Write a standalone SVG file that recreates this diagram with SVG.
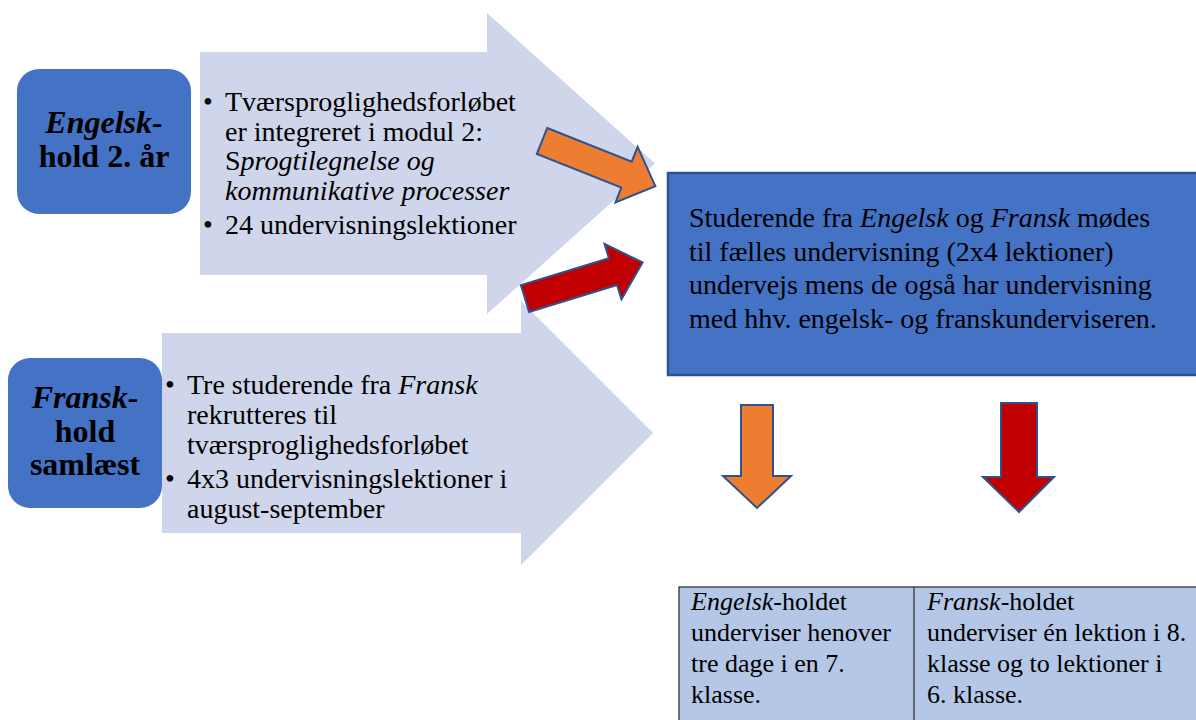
<svg xmlns="http://www.w3.org/2000/svg" width="1196" height="720" viewBox="0 0 1196 720">
<defs>
<style>
text{font-family:'Liberation Serif','DejaVu Serif',serif;fill:#000}
.lbl{font-size:32px;font-weight:bold;text-anchor:middle}
.body{font-size:28px}
.tab{font-size:26px}
.big{fill:#CFD5EA}
.blue{fill:#4472C4}
.or{fill:#ED7D31;stroke:#2F528F;stroke-width:2;stroke-linejoin:miter}
.rd{fill:#C00000;stroke:#2F528F;stroke-width:2;stroke-linejoin:miter}
</style>
</defs>
<rect width="1196" height="720" fill="#fff"/>
<g id="engelsk-arrow">
<polygon class="big" points="200,52 487,52 487,13 655,163.5 487,314 487,275 200,275"/>
<text class="body"><tspan x="203" y="111">•</tspan><tspan x="225" y="111">Tværsproglighedsforløbet</tspan><tspan x="225" y="141">er integreret i modul 2:</tspan><tspan x="225" y="170">S<tspan font-style="italic">progtilegnelse og</tspan></tspan><tspan x="225" y="200" font-style="italic">kommunikative processer</tspan><tspan x="203" y="234">•</tspan><tspan x="225" y="234">24 undervisningslektioner</tspan></text>
</g>
<g id="fransk-arrow">
<polygon class="big" points="162,333 521,333 521,301 653,433 521,565 521,533 162,533"/>
<text class="body"><tspan x="165" y="394">•</tspan><tspan x="187" y="394">Tre studerende fra <tspan font-style="italic">Fransk</tspan></tspan><tspan x="187" y="424">rekrutteres til</tspan><tspan x="187" y="454">tværsproglighedsforløbet</tspan><tspan x="165" y="488">•</tspan><tspan x="187" y="488">4x3 undervisningslektioner i</tspan><tspan x="187" y="518">august-september</tspan></text>
</g>
<g id="engelsk-label">
<rect class="blue" x="17" y="69" width="174" height="145" rx="22"/>
<text class="lbl"><tspan x="104" y="133" font-style="italic">Engelsk-</tspan><tspan x="104" y="167">hold 2. år</tspan></text>
</g>
<g id="fransk-label">
<rect class="blue" x="8" y="358" width="154" height="150" rx="22"/>
<text class="lbl"><tspan x="85" y="408" font-style="italic">Fransk-</tspan><tspan x="85" y="442">hold</tspan><tspan x="85" y="475">samlæst</tspan></text>
</g>
<g id="center">
<rect x="668" y="173" width="540" height="202" fill="#4472C4" stroke="#2F528F" stroke-width="2.5"/>
<text class="body"><tspan x="689" y="227">Studerende fra <tspan font-style="italic">Engelsk</tspan> og <tspan font-style="italic">Fransk</tspan> mødes</tspan><tspan x="689" y="261">til fælles undervisning (2x4 lektioner)</tspan><tspan x="689" y="294">undervejs mens de også har undervisning</tspan><tspan x="689" y="328">med hhv. engelsk- og franskunderviseren.</tspan></text>
</g>
<g id="table">
<rect x="679" y="587" width="530" height="145" fill="#B4C7E7" stroke="#333" stroke-width="1.3"/>
<line x1="914" y1="587" x2="914" y2="720" stroke="#333" stroke-width="1.3"/>
<text class="tab"><tspan x="691" y="610"><tspan font-style="italic">Engelsk</tspan>-holdet</tspan><tspan x="691" y="641">underviser henover</tspan><tspan x="691" y="672">tre dage i en 7.</tspan><tspan x="691" y="703">klasse.</tspan></text>
<text class="tab"><tspan x="927" y="610"><tspan font-style="italic">Fransk</tspan>-holdet</tspan><tspan x="927" y="641">underviser én lektion i 8.</tspan><tspan x="927" y="672">klasse og to lektioner i</tspan><tspan x="927" y="703">6. klasse.</tspan></text>
</g>
<g id="connectors">
<polygon class="or" transform="translate(542,141) rotate(21.7)" points="0,-14 91,-14 91,-30 122,0 91,30 91,14 0,14"/>
<polygon class="rd" transform="translate(525,298.5) rotate(-17)" points="0,-14 92,-14 92,-29 123,0 92,29 92,14 0,14"/>
<polygon class="or" points="741,405 773,405 773,476 791,476 757,508 723,476 741,476"/>
<polygon class="rd" points="1001,403 1037,403 1037,477 1054,477 1019,512 983,477 1001,477"/>
</g>
</svg>
